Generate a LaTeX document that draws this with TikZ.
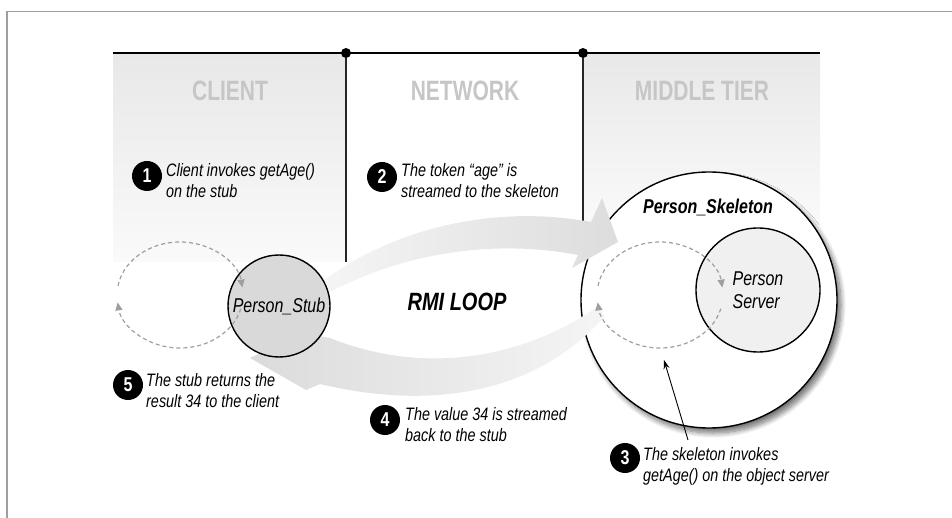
\documentclass[tikz,border=0pt]{standalone}
\usepackage{fontspec}
\setmainfont{Liberation Sans}
\newfontfamily\figfont[FakeStretch=0.8]{Liberation Sans}
\newfontfamily\headfont[FakeStretch=0.75]{Liberation Sans}
\usetikzlibrary{arrows.meta,shadows.blur}

\begin{document}
\begin{tikzpicture}[x=1pt,y=-1pt,
  heading/.style={font=\headfont\bfseries\fontsize{28}{30}\selectfont, text=gray!45, inner sep=0pt},
  divider/.style={line width=1.3pt, black!85},
  joint/.style={circle, fill=black, inner sep=0pt, minimum size=10pt},
  stepnum/.style={circle, fill=black, text=white, inner sep=0pt, minimum size=30pt,
    font=\figfont\bfseries\fontsize{20}{20}\selectfont},
  steptext/.style={anchor=north west, align=left, inner sep=0pt,
    font=\figfont\itshape\fontsize{18}{21}\selectfont},
  objcircle/.style={circle, draw, line width=1.4pt, inner sep=0pt},
  objlabel/.style={font=\figfont\itshape\fontsize{20}{23}\selectfont},
  loopline/.style={gray!75, line width=1.2pt, dash pattern=on 4pt off 3pt,
    -{Triangle[length=8pt,width=7pt]}},
  pointer/.style={line width=0.9pt, -{Stealth[length=9pt,width=6pt]}}
]
\useasboundingbox (0,0) rectangle (952,518);

% outer frame (top and left edges)
\draw[gray!75, line width=1.5pt] (7,518) -- (7,11.5) -- (952,11.5);

% tier panels
\shade[top color=gray!18, bottom color=gray!4] (113,53) rectangle (346,262);
\shade[top color=gray!18, bottom color=gray!4] (583,53) rectangle (820,225);

% tier rule and dividers
\coordinate (ruleL) at (113,53);
\coordinate (ruleR) at (820,53);
\coordinate (div1) at (346,262);
\coordinate (div2) at (583,225);
\draw[line width=2.5pt] (ruleL) -- (ruleR);
\node[joint] (j1) at (346,53) {};
\node[joint] (j2) at (583,53) {};
\draw[divider] (j1) -- (div1);
\draw[divider] (j2) -- (div2);

% tier headings
\node[heading] (hclient) at (230,91) {CLIENT};
\node[heading] (hnet) at (465,91) {NETWORK};
\node[heading] (hmid) at (702,91) {MIDDLE TIER};

% skeleton and server
\node[objcircle, fill=white, minimum size=256pt,
  blur shadow={shadow xshift=4pt, shadow yshift=-5pt, shadow blur radius=5pt,
  shadow blur steps=10, shadow opacity=55}] (skel) at (709,300) {};
\node[objlabel, font=\figfont\bfseries\itshape\fontsize{20}{23}\selectfont] (skellabel) at (708,207) {Person\_Skeleton};
\node[objcircle, fill=gray!12, minimum size=124pt, objlabel, align=left] (server) at (758,290) {Person\\Server};

% RMI loop: request arrow (stub to skeleton)
\shade[left color=gray!8, right color=gray!27]
  (324,280) .. controls (400,225) and (500,205) .. (591,222)
  -- (602,198) -- (618,242) -- (572,268) -- (578,255)
  .. controls (500,240) and (410,250) .. (330,292) -- cycle;
% RMI loop: reply arrow (skeleton to stub)
\shade[left color=gray!28, right color=gray!8]
  (600,305) .. controls (530,355) and (430,378) .. (330,338)
  -- (304,333) -- (250,358) -- (306,390) -- (320,384)
  .. controls (420,408) and (530,400) .. (604,317) -- cycle;

% stub
\node[objcircle, fill=gray!30, minimum size=102pt, objlabel] (stub) at (279,306) {Person\_Stub};

% local call loops
\coordinate (cl) at (180,295);
\coordinate (cr) at (660,295);
\draw[loopline] ([shift={(190:63 and 53)}]cl) arc[start angle=190, end angle=352, x radius=63, y radius=53];
\draw[loopline] ([shift={(15:63 and 53)}]cl) arc[start angle=15, end angle=172, x radius=63, y radius=53];
\draw[loopline] ([shift={(190:63 and 53)}]cr) arc[start angle=190, end angle=352, x radius=63, y radius=53];
\draw[loopline] ([shift={(15:63 and 53)}]cr) arc[start angle=15, end angle=172, x radius=63, y radius=53];

\node[font=\figfont\bfseries\itshape\fontsize{25}{25}\selectfont] (rmi) at (457,302) {RMI LOOP};

% numbered steps
\node[stepnum] (n1) at (147,176) {1};
\node[steptext] (t1) at (166,163) {Client invokes getAge()\\on the stub};
\node[stepnum] (n2) at (382,177) {2};
\node[steptext] (t2) at (401,163) {The token “age” is\\streamed to the skeleton};
\node[stepnum] (n3) at (625,458) {3};
\node[steptext] (t3) at (643,447) {The skeleton invokes\\getAge() on the object server};
\node[stepnum] (n4) at (385,420) {4};
\node[steptext] (t4) at (405,407) {The value 34 is streamed\\back to the stub};
\node[stepnum] (n5) at (128,385) {5};
\node[steptext] (t5) at (146,373) {The stub returns the\\result 34 to the client};

% pointer from step 3 to the skeleton's loop
\coordinate (ptail) at (688,440);
\coordinate (phead) at (664,360);
\draw[pointer] (ptail) -- (phead);
\end{tikzpicture}
\end{document}
